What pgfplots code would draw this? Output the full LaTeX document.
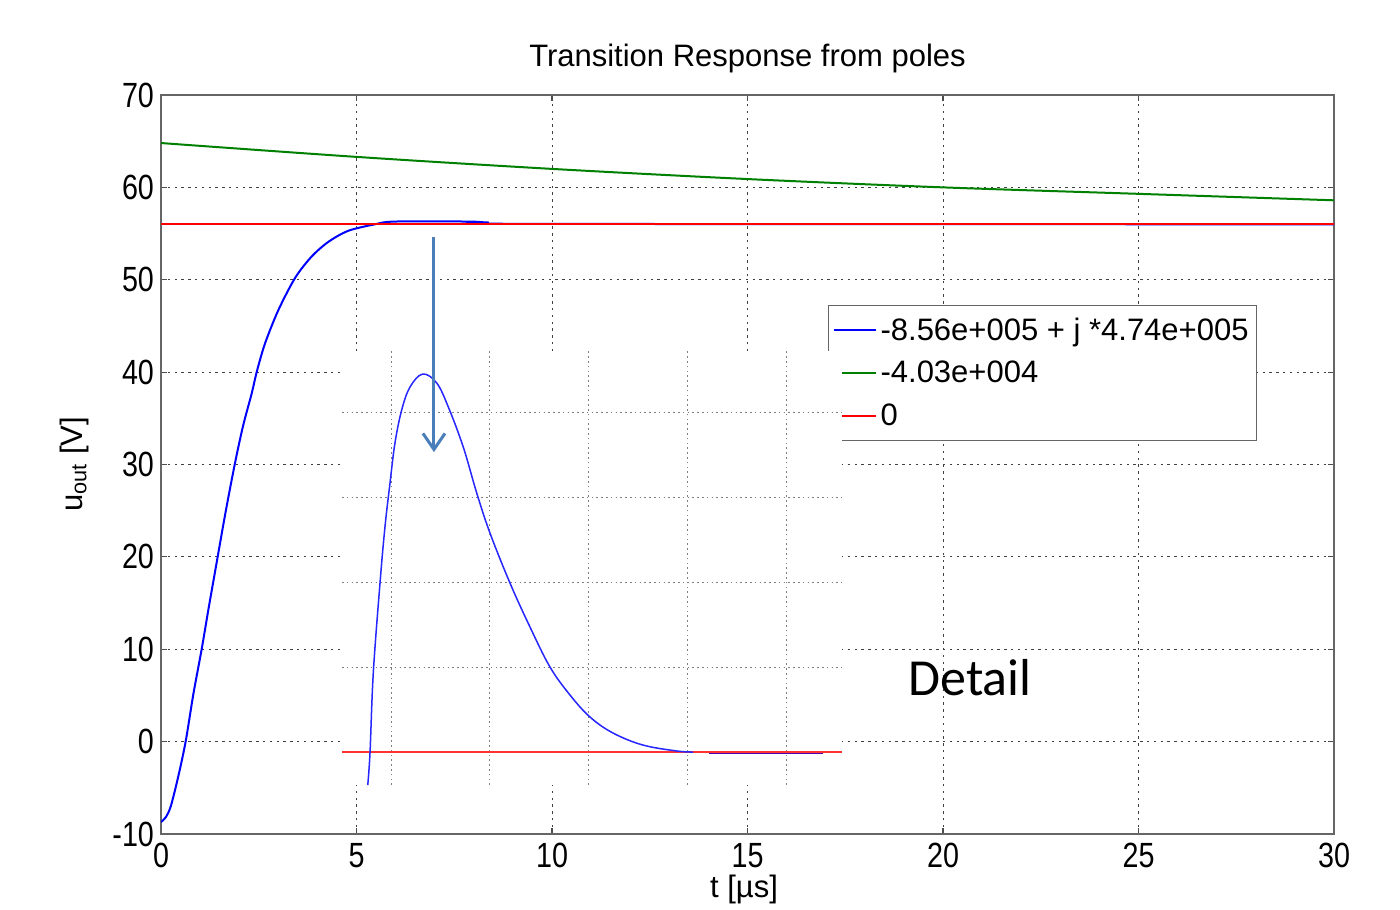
\documentclass[border=0pt]{standalone}
\usepackage{fontspec}
\setmainfont{Liberation Sans}
\newfontfamily\tickfont[FakeStretch=0.82]{Liberation Sans}
\newfontfamily\calfont{Carlito}
\usepackage{pgfplots}
\pgfplotsset{compat=1.18}
\usetikzlibrary{arrows.meta}
\definecolor{mgreen}{RGB}{0,128,0}
\definecolor{arrowblue}{RGB}{74,126,187}

\begin{document}
\begin{tikzpicture}
% main axis
\begin{axis}[
    name=main, scale only axis, width=586.5pt, height=369.5pt,
    xmin=0, xmax=30, ymin=-10, ymax=70,
    xtick={0,5,...,30}, ytick={-10,0,...,70},
    tick align=inside, major tick length=3pt,
    tick style={black!70, line width=0.6pt},
    grid=major,
    major grid style={black!75, line width=0.5pt, dash pattern=on 1.2pt off 2.2pt},
    axis line style={black!60, line width=0.8pt},
    /pgf/number format/assume math mode=true,
    tick label style={font=\tickfont\fontsize{17.5}{18}\selectfont},
    xticklabel style={yshift=-1pt},
    title={Transition Response from poles},
    title style={at={(0.5,1)}, anchor=base, yshift=8pt, font=\fontsize{15.5}{18}\selectfont},
    xlabel={t [µs]},
    xlabel style={at={(axis description cs:0.497,-0.0866)}, anchor=base, font=\fontsize{15.5}{18}\selectfont},
    ylabel={u\textsubscript{out} [V]},
    ylabel style={at={(axis description cs:-0.0673,0.5)}, anchor=base, font=\fontsize{15.5}{18}\selectfont},
    legend style={at={(0.5686,0.7158)}, anchor=north west, draw=black!60, line width=0.6pt,
        fill=white, font=\fontsize{15.5}{18}\selectfont, inner xsep=2pt, inner ysep=4pt,
        row sep=5pt},
    legend cell align=left,
    legend image code/.code={\draw[#1] (0pt,0pt) -- (21pt,0pt);},
]
\addplot[blue, line width=1pt, smooth, tension=0.5] coordinates {
    (0,-8.7) (0.12,-8.2) (0.25,-7.0) (0.44,-3.8) (0.63,0) (0.83,5.2) (1.04,10) (1.21,14.25)
    (1.42,19.3) (1.65,24.8) (1.89,30.1) (2.1,34.2) (2.32,37.7) (2.45,40.05)
    (2.66,43.1) (3.0,46.7) (3.43,50.2) (3.85,52.5) (4.28,54.1) (4.79,55.3)
    (5.47,56.0) (5.98,56.3) (7.85,56.3) (8.36,56.2) (9.6,56.05) (30,56.0)
};
\addlegendentry{-8.56e+005 + j *4.74e+005}
\addplot[mgreen, line width=1pt, smooth] coordinates {
    (0,64.8) (5,63.3) (10,62.0) (15,60.9) (20,60.0) (25,59.3) (30,58.6)
};
\addlegendentry{-4.03e+004}
\addplot[red, line width=1pt] coordinates {(0,56) (30,56)};
\addlegendentry{0}
\node[font=\calfont\fontsize{26}{30}\selectfont] at (axis cs:20.69,6.89) {Detail};
\end{axis}
% inset (detail)
\begin{axis}[
    at={(main.north west)}, anchor=north west, xshift=90.5pt, yshift=-128pt,
    scale only axis, width=250pt, height=217pt,
    xmin=0.505, xmax=5.556, ymin=-0.388, ymax=4.718,
    xtick={1,...,5}, ytick={0,...,4},
    ticks=none, axis line style={draw=none},
    axis background/.style={fill=white},
    grid=major,
    major grid style={black!50, line width=0.5pt, dash pattern=on 0.8pt off 1.6pt},
    clip=false,
]
\addplot[red!80, line width=1pt] coordinates {(0.505,0) (5.556,0)};
\addplot[blue!85, line width=0.75pt, smooth, tension=0.6] coordinates {
    (0.765,-0.39) (0.788,-0.008) (0.821,0.929) (0.889,1.988) (0.939,2.647)
    (0.990,3.165) (1.040,3.635) (1.108,4.024) (1.192,4.294) (1.320,4.447)
    (1.462,4.341) (1.579,4.059) (1.730,3.588) (1.866,3.047) (2.000,2.576)
    (2.202,1.988) (2.404,1.471) (2.606,1.000) (2.808,0.671) (3.010,0.412)
    (3.242,0.224) (3.545,0.082) (3.889,0.012) (4.051,0)
};
\addplot[blue!70!red, line width=0.75pt] coordinates {(4.212,-0.015) (5.364,-0.015)};
\draw[arrowblue, line width=1.5pt, -{Straight Barb[length=8pt,width=11pt]}]
    (axis cs:1.434,6.059) -- (axis cs:1.434,3.529);
\end{axis}
\pgfresetboundingbox
\path ([xshift=-80.5pt,yshift=-37.5pt]main.south west) rectangle ([xshift=33pt,yshift=47.5pt]main.north east);
\end{tikzpicture}
\end{document}
